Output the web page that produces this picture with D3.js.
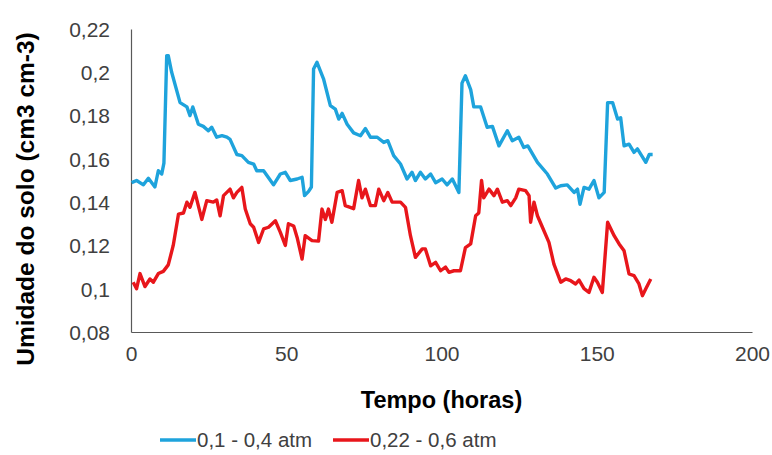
<!doctype html>
<html lang="pt">
<head>
  <meta charset="utf-8">
  <title>Umidade do solo</title>
  <style>
    body { margin: 0; background: #fff; }
    #chart text { font-family: Arial, "Liberation Sans", sans-serif; fill: #404040; }
    .axis path { stroke: #595959; stroke-width: 1.2; }
    .axis text { font-size: 21px; }
    .title { font-size: 23.5px; font-weight: bold; fill: #000 !important; }
    .series { fill: none; stroke-width: 3.4; stroke-linejoin: round; }
  </style>
</head>
<body>
  <div id="chart"></div>
  <script src="https://d3js.org/d3.v7.min.js"></script>
  <script>
// data
const seriesNames = ['0,1 - 0,4 atm', '0,22 - 0,6 atm'];
const seriesColors = ['#1ea3dc', '#e8161b'];

const blueHours = [0.2, 1.8, 4.0, 5.6, 7.7, 8.8, 9.9, 10.6, 11.5, 12.0, 13.1, 15.8, 18.0, 19.0, 19.9, 21.7,
  23.3, 24.9, 26.0, 27.6, 29.3, 30.9, 31.9, 34.1, 35.7, 37.8, 39.5, 40.5, 42.7, 45.9, 48.1, 49.7, 51.3,
  53.5, 55.1, 55.9, 57.2, 58.1, 58.8, 59.9, 62.0, 64.2, 65.8, 66.9, 68.0, 69.6, 71.7, 73.9, 75.5, 77.1,
  79.3, 81.4, 82.7, 84.6, 86.8, 88.9, 90.5, 91.6, 93.2, 94.8, 96.5, 98.1, 100.2, 101.8, 103.5, 105.6,
  106.6, 107.7, 109.4, 110.4, 112.6, 114.7, 116.4, 118.5, 121.2, 122.8, 124.9, 126.5, 127.8, 130.9,
  134.1, 136.8, 138.4, 140.5, 142.7, 143.8, 144.6, 145.9, 147.5, 149.1, 150.7, 152.4, 153.5, 155.1,
  156.7, 157.7, 158.8, 160.4, 162.0, 163.1, 165.8, 166.9, 168.0];
const blueValues = [0.149, 0.150, 0.148, 0.151, 0.147, 0.1545, 0.153, 0.158, 0.2077, 0.2077, 0.200, 0.186,
  0.184, 0.180, 0.184, 0.176, 0.175, 0.173, 0.1746, 0.170, 0.1707, 0.170, 0.169, 0.162, 0.1615, 0.1584,
  0.1576, 0.1545, 0.1545, 0.148, 0.153, 0.1538, 0.150, 0.1507, 0.1515, 0.143, 0.145, 0.147, 0.2015,
  0.2046, 0.197, 0.1846, 0.183, 0.1784, 0.181, 0.176, 0.172, 0.1707, 0.174, 0.170, 0.170, 0.1676, 0.1684,
  0.1615, 0.1576, 0.1507, 0.1538, 0.150, 0.1538, 0.1507, 0.153, 0.149, 0.1507, 0.148, 0.1507, 0.1445,
  0.195, 0.1984, 0.192, 0.184, 0.184, 0.1746, 0.175, 0.166, 0.173, 0.1684, 0.170, 0.1653, 0.166, 0.1584,
  0.153, 0.1465, 0.1476, 0.148, 0.1445, 0.146, 0.139, 0.1468, 0.146, 0.150, 0.142, 0.1445, 0.186, 0.186,
  0.1784, 0.179, 0.166, 0.1668, 0.163, 0.1646, 0.1584, 0.162, 0.162];

const redHours = [0.7, 1.8, 2.9, 4.5, 6.1, 7.2, 8.8, 10.4, 12.0, 13.6, 15.3, 16.9, 18.0, 19.0, 20.6, 22.8,
  24.4, 26.5, 27.6, 28.7, 29.8, 31.9, 33.0, 34.1, 35.7, 36.8, 38.4, 39.5, 41.1, 42.7, 44.3, 46.5, 48.1,
  49.7, 50.7, 52.4, 53.5, 55.1, 56.1, 58.3, 60.4, 61.5, 62.6, 63.6, 64.7, 66.4, 68.0, 69.0, 70.6, 71.7,
  73.3, 74.4, 75.5, 77.1, 78.7, 79.8, 81.4, 82.7, 84.1, 86.8, 88.4, 90.0, 91.6, 93.8, 94.8, 96.5, 98.1,
  99.7, 101.3, 102.4, 104.0, 106.1, 107.7, 109.4, 111.0, 112.0, 112.9, 113.6, 115.3, 116.9, 118.0, 119.6,
  121.2, 122.3, 123.9, 124.9, 127.1, 128.2, 128.7, 129.8, 130.9, 132.5, 134.6, 136.2, 138.4, 140.0, 141.6,
  143.2, 144.3, 145.9, 147.5, 149.1, 150.2, 151.8, 153.5, 155.6, 157.2, 158.8, 160.4, 162.0, 163.6, 164.7,
  165.8, 167.4];
const redValues = [0.103, 0.100, 0.107, 0.101, 0.1045, 0.103, 0.107, 0.108, 0.111, 0.120, 0.1345, 0.135,
  0.140, 0.1376, 0.1445, 0.132, 0.1407, 0.140, 0.141, 0.1337, 0.143, 0.146, 0.142, 0.1445, 0.1468, 0.1368,
  0.130, 0.1284, 0.1214, 0.1276, 0.1284, 0.1314, 0.126, 0.120, 0.130, 0.129, 0.1237, 0.1137, 0.1245,
  0.1222, 0.122, 0.1368, 0.132, 0.1368, 0.1307, 0.1445, 0.1453, 0.1384, 0.1376, 0.137, 0.150, 0.142, 0.146,
  0.1384, 0.1384, 0.146, 0.1407, 0.1445, 0.140, 0.140, 0.1376, 0.1245, 0.1145, 0.1184, 0.1184, 0.1106,
  0.1122, 0.1083, 0.110, 0.1076, 0.1083, 0.1083, 0.119, 0.1207, 0.1337, 0.135, 0.150, 0.142, 0.146, 0.143,
  0.146, 0.140, 0.1407, 0.1384, 0.142, 0.146, 0.1453, 0.143, 0.1307, 0.140, 0.1337, 0.1284, 0.1214,
  0.1114, 0.103, 0.1045, 0.1037, 0.1022, 0.104, 0.100, 0.0983, 0.1053, 0.103, 0.0983, 0.1307, 0.1245,
  0.1207, 0.1175, 0.1068, 0.106, 0.1022, 0.0968, 0.100, 0.1045];

const xTicks = [0, 50, 100, 150, 200];
const yTicks = [0.08, 0.10, 0.12, 0.14, 0.16, 0.18, 0.20, 0.22];

const width = 772;
const height = 455;
const margin = { top: 29, right: 20, bottom: 123, left: 131 };

const svg = d3.select('#chart')
  .append('svg')
  .attr('width', width)
  .attr('height', height);

const x = d3.scaleLinear().domain([0, 200]).range([margin.left, width - margin.right]);
const y = d3.scaleLinear().domain([0.08, 0.22]).range([height - margin.bottom, margin.top]);

// comma as decimal separator
const pt = d3.formatLocale({ decimal: ',', thousands: '.', grouping: [3], currency: ['R$', ''] });
const fmt = pt.format('~g');

svg.append('g')
  .attr('class', 'axis')
  .attr('transform', 'translate(' + margin.left + ',0)')
  .call(d3.axisLeft(y).tickValues(yTicks).tickSize(0).tickPadding(21).tickFormat(fmt))
  .call(g => g.selectAll('text').attr('dy', '0.35em'));

svg.append('g')
  .attr('class', 'axis')
  .attr('transform', 'translate(0,' + y(0.08) + ')')
  .call(d3.axisBottom(x).tickValues(xTicks).tickSize(0).tickPadding(14).tickFormat(d3.format('d')));

const line = d3.line()
  .x(d => x(d[0]))
  .y(d => y(d[1]));

const series = [
  d3.zip(blueHours, blueValues),
  d3.zip(redHours, redValues)
];

svg.append('g')
  .selectAll('path')
  .data(series)
  .join('path')
  .attr('class', 'series')
  .attr('stroke', (d, i) => seriesColors[i])
  .attr('d', line);

// axis titles
svg.append('text')
  .attr('class', 'title')
  .attr('x', (x(0) + x(200)) / 2)
  .attr('y', 408)
  .attr('text-anchor', 'middle')
  .text('Tempo (horas)');

svg.append('text')
  .attr('class', 'title')
  .style('font-size', '24.5px')
  .attr('transform', 'translate(34,' + 199 + ') rotate(-90)')
  .attr('text-anchor', 'middle')
  .text('Umidade do solo (cm3 cm-3)');

// legend
const legendX = [160, 333];
const legend = svg.append('g')
  .selectAll('g')
  .data(seriesNames)
  .join('g')
  .attr('transform', (d, i) => 'translate(' + legendX[i] + ',440)');

legend.append('line')
  .attr('x1', 0)
  .attr('x2', 36)
  .attr('stroke', (d, i) => seriesColors[i])
  .attr('stroke-width', 3.4);

legend.append('text')
  .attr('x', 37)
  .attr('dy', '0.35em')
  .style('font-size', '20.5px')
  .text(d => d);
  </script>
</body>
</html>
